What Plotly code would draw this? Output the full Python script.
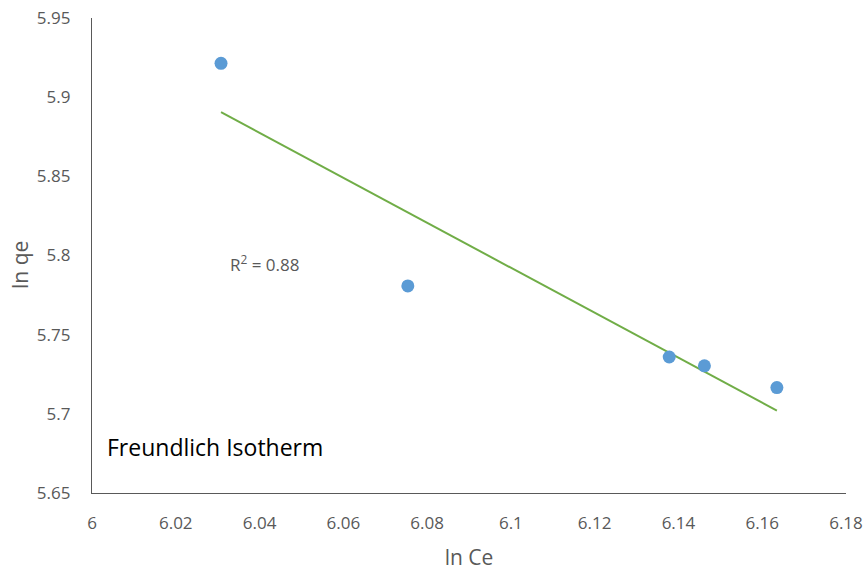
import numpy as np
import plotly.graph_objects as go

ln_ce = [6.0308, 6.0754, 6.1378, 6.1462, 6.1635]
ln_qe = [5.9214, 5.7808, 5.7359, 5.7303, 5.7166]

x_ticks = [6.0, 6.02, 6.04, 6.06, 6.08, 6.1, 6.12, 6.14, 6.16, 6.18]
x_tick_text = ["6", "6.02", "6.04", "6.06", "6.08", "6.1", "6.12", "6.14", "6.16", "6.18"]
y_ticks = [5.65, 5.7, 5.75, 5.8, 5.85, 5.9, 5.95]
y_tick_text = ["5.65", "5.7", "5.75", "5.8", "5.85", "5.9", "5.95"]

x = np.array(ln_ce)
y = np.array(ln_qe)
slope, intercept = np.polyfit(x, y, 1)
pred = slope * x + intercept
r2 = 1 - np.sum((y - pred) ** 2) / np.sum((y - y.mean()) ** 2)
xl = np.array([x.min(), x.max()])

fig = go.Figure()
fig.add_trace(go.Scatter(x=xl, y=slope * xl + intercept, mode="lines",
                         line=dict(color="#70AD47", width=2), showlegend=False,
                         hoverinfo="skip"))
fig.add_trace(go.Scatter(x=ln_ce, y=ln_qe, mode="markers",
                         marker=dict(color="#5B9BD5", size=13), showlegend=False))

font_family = "Open Sans, Liberation Sans, sans-serif"
tick_font = dict(family=font_family, size=17, color="#595959")

fig.update_layout(
    width=865, height=571,
    margin=dict(l=92, r=19, t=18, b=78),
    paper_bgcolor="white", plot_bgcolor="white",
    font=dict(family=font_family),
    xaxis=dict(range=[6.0, 6.18], tickvals=x_ticks, ticktext=x_tick_text,
               showgrid=False, zeroline=False, showline=True, automargin=False,
               linecolor="#595959", linewidth=1.3, ticks="",
               tickfont=tick_font, ticklabelstandoff=14,
               title=dict(text="ln Ce", font=dict(family=font_family, size=21, color="#595959"),
                          standoff=24)),
    yaxis=dict(range=[5.65, 5.95], tickvals=y_ticks, ticktext=y_tick_text,
               showgrid=False, zeroline=False, showline=True, automargin=False,
               linecolor="#595959", linewidth=1.3, ticks="",
               tickfont=tick_font, ticklabelstandoff=17),
    annotations=[
        dict(x=-0.0955, y=0.48, xref="paper", yref="paper", text="ln qe",
             textangle=-90, showarrow=False, xanchor="center", yanchor="middle",
             font=dict(family=font_family, size=21, color="#595959")),
        dict(x=6.0325, y=5.795, xref="x", yref="y", text=f"R<sup>2</sup> = {r2:.2f}",
             showarrow=False, xanchor="left", yanchor="middle",
             font=dict(family=font_family, size=17, color="#595959")),
        dict(x=6.003, y=5.679, xref="x", yref="y", text="Freundlich Isotherm",
             showarrow=False, xanchor="left", yanchor="middle",
             font=dict(family=font_family, size=23, color="#000000")),
    ],
)

fig.write_html("out.html")
